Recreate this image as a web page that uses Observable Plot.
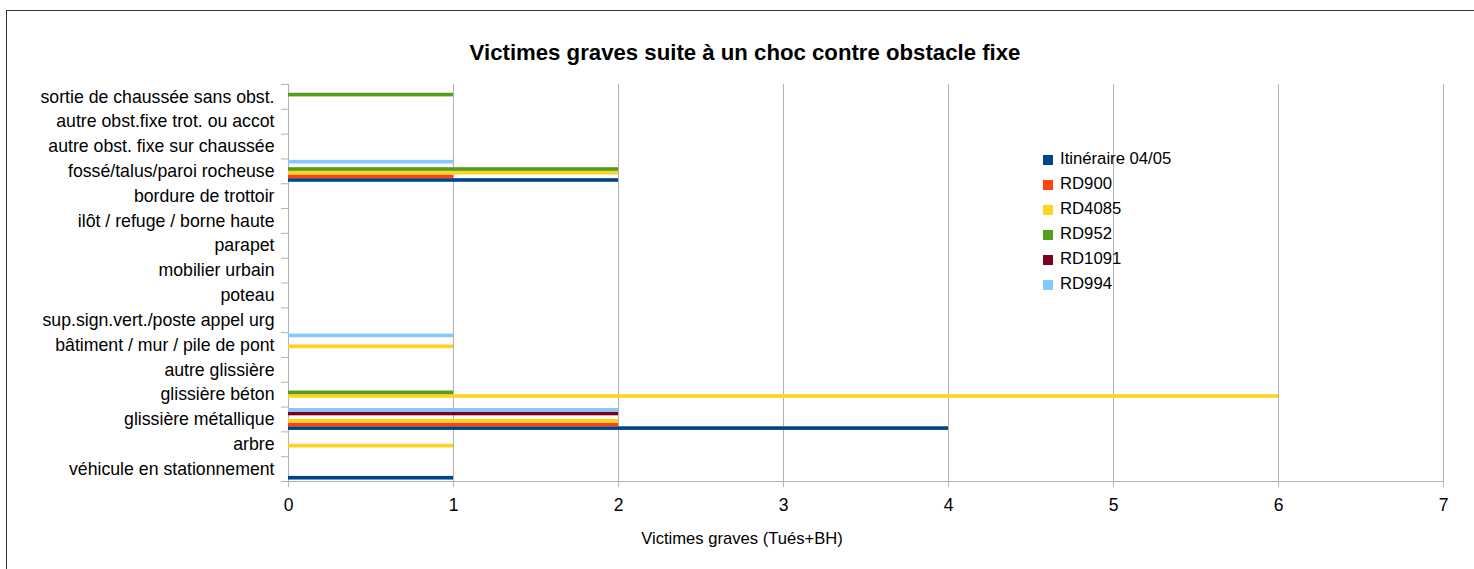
<!DOCTYPE html>
<html><head><meta charset="utf-8">
<script src="https://cdn.jsdelivr.net/npm/d3@7"></script>
<script src="https://cdn.jsdelivr.net/npm/@observablehq/plot@0.6"></script>
<style>
body{margin:0;background:#fff;font-family:"Liberation Sans",Arial,sans-serif;color:#000;}
#wrap{position:relative;width:1474px;height:569px;overflow:hidden;}
#border{position:absolute;left:6px;top:10px;width:1480px;height:600px;border:1px solid #333;box-sizing:border-box;}
#title{position:absolute;left:0;width:1490px;top:40px;line-height:26px;text-align:center;font-weight:bold;font-size:22.2px;}
#chart{position:absolute;left:0;top:70px;}
#chart svg{display:block;}
#xlabel{position:absolute;left:0;width:1484px;top:529px;line-height:20px;text-align:center;font-size:16.6px;}
#legend{position:absolute;left:1043px;top:146px;font-size:16.7px;}
.li{height:25px;line-height:25px;white-space:nowrap;}
.sw{display:inline-block;width:10px;height:10px;margin-right:7px;vertical-align:-0.5px;}
</style>
</head><body>
<div id="wrap">
<div id="border"></div>
<div id="title">Victimes graves suite à un choc contre obstacle fixe</div>
<div id="chart"></div>
<div id="xlabel">Victimes graves (Tués+BH)</div>
<div id="legend"></div>
</div>
<script>
const categories = [
  "sortie de chaussée sans obst.",
  "autre obst.fixe trot. ou accot",
  "autre obst. fixe sur chaussée",
  "fossé/talus/paroi rocheuse",
  "bordure de trottoir",
  "ilôt / refuge / borne haute",
  "parapet",
  "mobilier urbain",
  "poteau",
  "sup.sign.vert./poste appel urg",
  "bâtiment / mur / pile de pont",
  "autre glissière",
  "glissière béton",
  "glissière métallique",
  "arbre",
  "véhicule en stationnement"
];
const series = ["Itinéraire 04/05", "RD900", "RD4085", "RD952", "RD1091", "RD994"];
const colors = ["#004586", "#ff420e", "#ffd320", "#579d1c", "#7e0021", "#83caff"];
const itineraire = [0,0,0,2,0,0,0,0,0,0,0,0,0,4,0,1];
const rd900      = [0,0,0,1,0,0,0,0,0,0,0,0,0,2,0,0];
const rd4085     = [0,0,0,2,0,0,0,0,0,0,1,0,6,2,1,0];
const rd952      = [1,0,0,2,0,0,0,0,0,0,0,0,1,0,0,0];
const rd1091     = [0,0,0,0,0,0,0,0,0,0,0,0,0,2,0,0];
const rd994      = [0,0,0,1,0,0,0,0,0,0,1,0,0,2,0,0];
const xTicks = [0,1,2,3,4,5,6,7];

const seriesValues = [itineraire, rd900, rd4085, rd952, rd1091, rd994];

const W = 1474, H = 450, mT = 14, mB = 39, mL = 288, mR = 31;
const step = (H - mT - mB) / categories.length;
const barH = 3.65;
const pad = (step - series.length * barH) / 2;

const barMarks = seriesValues.map((vals, i) => {
  const rows = categories.map((c, j) => ({cat: c, v: vals[j]})).filter(d => d.v > 0);
  const slot = series.length - 1 - i;
  return Plot.barX(rows, {
    y: "cat", x: "v", fill: colors[i],
    insetTop: pad + slot * barH,
    insetBottom: pad + i * barH
  });
});

const chart = Plot.plot({
  width: W, height: H,
  marginTop: mT, marginBottom: mB, marginLeft: mL, marginRight: mR,
  style: {fontFamily: "Liberation Sans, Arial, sans-serif", fontSize: "17.7px", color: "#000", background: "transparent"},
  x: {domain: [0, 7]},
  y: {type: "band", domain: categories, padding: 0, round: false},
  marks: [
    Plot.gridX(xTicks, {stroke: "#b3b3b3", strokeOpacity: 1}),
    ...barMarks,
    Plot.frame({anchor: "bottom", stroke: "#b3b3b3", insetLeft: -7}),
    Plot.axisX({ticks: xTicks, tickSize: 6, tickPadding: 11, fontSize: 17.5, stroke: "#b3b3b3", label: null, tickFormat: d3.format("d")}),
    Plot.axisY({tickSize: 7, tickFormat: () => "", dy: -step / 2, stroke: "#b3b3b3", label: null}),
    Plot.axisY({tickSize: 0, tickPadding: 14, fontSize: 17.7, label: null})
  ]
});
document.getElementById("chart").appendChild(chart);

const legend = document.getElementById("legend");
series.forEach((s, i) => {
  const row = document.createElement("div");
  row.className = "li";
  const sw = document.createElement("span");
  sw.className = "sw";
  sw.style.background = colors[i];
  row.appendChild(sw);
  row.appendChild(document.createTextNode(s));
  legend.appendChild(row);
});
</script>
</body></html>
